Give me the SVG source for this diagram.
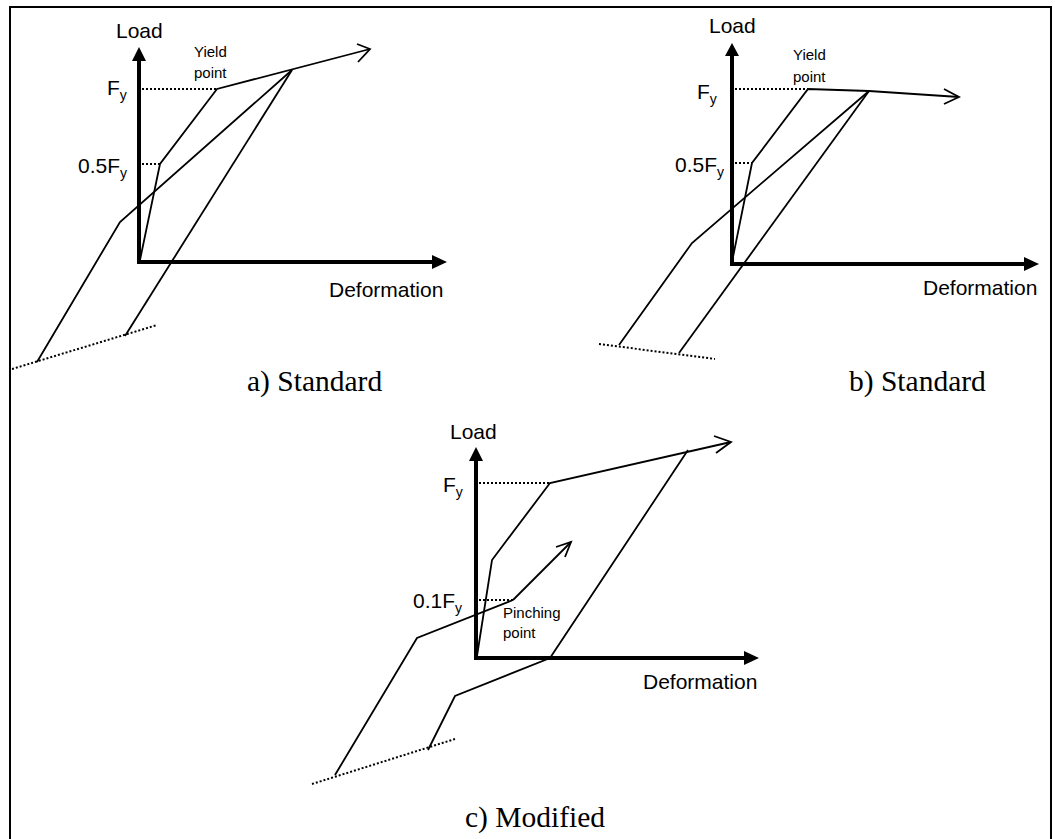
<svg xmlns="http://www.w3.org/2000/svg" width="1055" height="839" viewBox="0 0 1055 839">
<defs>
<style>
.lbl{font-family:"Liberation Sans",Arial,sans-serif;font-size:21px;fill:#000}
.sm{font-family:"Liberation Sans",Arial,sans-serif;font-size:15px;fill:#000}
.cap{font-family:"Liberation Serif","Times New Roman",serif;font-size:29.5px;fill:#000}
.sub{font-size:14px}
.axis{stroke:#000;stroke-width:4;fill:none}
.curve{stroke:#000;stroke-width:1.8;fill:none;stroke-linejoin:miter}
.dot{stroke:#000;stroke-width:2;fill:none;stroke-dasharray:2 2}
.head{fill:#000}
</style>
</defs>
<rect x="10" y="7" width="1041" height="845" fill="#fff" stroke="#000" stroke-width="2"/>

<g id="panel-a">
  <g id="a-axes">
    <polyline class="axis" points="139,58 139,262 436,262"/>
    <polygon class="head" points="139,47 132,61 146,61"/>
    <polygon class="head" points="447,262 432,255 432,269"/>
    <text class="lbl" x="116" y="38">Load</text>
    <text class="lbl" x="329" y="297">Deformation</text>
    <text class="lbl" x="107" y="95">F<tspan class="sub" dy="5">y</tspan></text>
    <text class="lbl" x="78" y="173">0.5F<tspan class="sub" dy="5">y</tspan></text>
    <text class="sm" x="194" y="57">Yield</text>
    <text class="sm" x="194" y="78">point</text>
  </g>
  <g id="a-connectors">
    <line class="dot" x1="142" y1="89" x2="217" y2="89"/>
    <line class="dot" x1="142" y1="164" x2="160" y2="164"/>
    <polyline class="curve" points="140,260 160,164 217,89 370,49"/>
    <polyline class="curve" points="357,44 370,49 358,62"/>
    <polyline class="curve" points="292,70 120,222 37,362"/>
    <line class="curve" x1="292" y1="70" x2="125" y2="336"/>
    <line class="dot" x1="12" y1="369" x2="157" y2="325"/>
  </g>
  <text class="cap" x="247" y="391">a) Standard</text>
</g>

<g id="panel-b">
  <g id="b-axes">
    <polyline class="axis" points="732,54 732,264 1028,264"/>
    <polygon class="head" points="732,43 725,56 739,56"/>
    <polygon class="head" points="1039,264 1024,257 1024,271"/>
    <text class="lbl" x="709" y="33">Load</text>
    <text class="lbl" x="923" y="295">Deformation</text>
    <text class="lbl" x="697" y="99">F<tspan class="sub" dy="5">y</tspan></text>
    <text class="lbl" x="675" y="172">0.5F<tspan class="sub" dy="5">y</tspan></text>
    <text class="sm" x="793" y="60">Yield</text>
    <text class="sm" x="793" y="82">point</text>
  </g>
  <g id="b-connectors">
    <line class="dot" x1="735" y1="89" x2="808" y2="89"/>
    <line class="dot" x1="735" y1="163" x2="752" y2="163"/>
    <polyline class="curve" points="733,257 752,163 808,89 869,91 959,97"/>
    <polyline class="curve" points="944,89 959,97 944,104"/>
    <polyline class="curve" points="869,91 692,243 619,345"/>
    <line class="curve" x1="869" y1="91" x2="679" y2="353"/>
    <line class="dot" x1="599" y1="344" x2="715" y2="359"/>
  </g>
  <text class="cap" x="849" y="391">b) Standard</text>
</g>

<g id="panel-c">
  <g id="c-axes">
    <polyline class="axis" points="476,458 476,658 748,658"/>
    <polygon class="head" points="476,447 469,461 483,461"/>
    <polygon class="head" points="759,658 744,651 744,665"/>
    <text class="lbl" x="450" y="439">Load</text>
    <text class="lbl" x="643" y="689">Deformation</text>
    <text class="lbl" x="443" y="492">F<tspan class="sub" dy="5">y</tspan></text>
    <text class="lbl" x="413" y="608">0.1F<tspan class="sub" dy="5">y</tspan></text>
    <text class="sm" x="503" y="618">Pinching</text>
    <text class="sm" x="503" y="638">point</text>
  </g>
  <g id="c-connectors">
    <line class="dot" x1="479" y1="483" x2="550" y2="483"/>
    <line class="dot" x1="479" y1="600" x2="513" y2="600"/>
    <polyline class="curve" points="477,656 492,560 550,483 731,442"/>
    <polyline class="curve" points="714,436 731,442 716,453"/>
    <line class="curve" x1="513" y1="600" x2="571" y2="542"/>
    <polyline class="curve" points="556,547 571,542 565,557"/>
    <polyline class="curve" points="513,600 417,638 335,775"/>
    <polyline class="curve" points="688,450 550,658 455,696 428,750"/>
    <line class="dot" x1="312" y1="784" x2="455" y2="739"/>
  </g>
  <text class="cap" x="465" y="827">c) Modified</text>
</g>
</svg>
